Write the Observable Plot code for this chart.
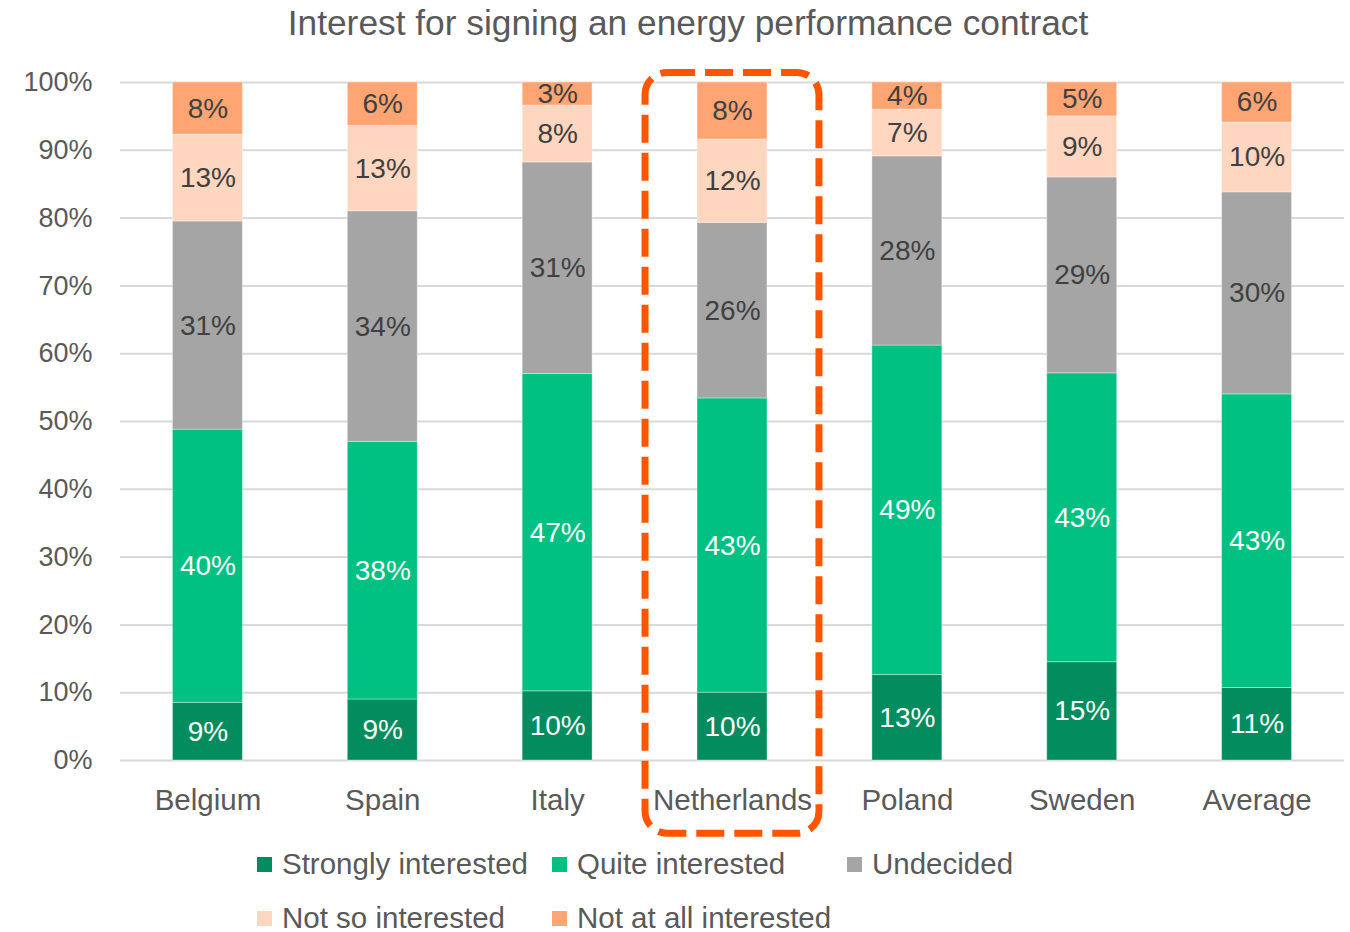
<!DOCTYPE html>
<html><head><meta charset="utf-8">
<script src="https://cdn.jsdelivr.net/npm/d3@7"></script>
<script src="https://cdn.jsdelivr.net/npm/@observablehq/plot@0.6"></script>
<style>
body{margin:0;background:#fff;font-family:"Liberation Sans",Arial,sans-serif;}
#title{height:50px;line-height:46px;font-size:35.3px;color:#595959;text-align:center;width:1350px;padding-left:26px;box-sizing:border-box;white-space:nowrap;}
#legend{position:relative;height:82px;width:1350px;}
.item{position:absolute;font-size:29.5px;color:#595959;display:flex;align-items:center;white-space:nowrap;height:32px;}
.sw{width:15px;height:15px;margin-right:10px;flex:none;}
</style></head><body>
<div id="title">Interest for signing an energy performance contract</div>
<div id="chart"></div>
<div id="legend"></div>
<script>
const countries = ["Belgium", "Spain", "Italy", "Netherlands", "Poland", "Sweden", "Average"];
const categories = ["Strongly interested", "Quite interested", "Undecided", "Not so interested", "Not at all interested"];
const strongly  = [8.5, 9.0, 10.2, 10.0, 12.6, 14.5, 10.7];
const quite     = [40.3, 38.0, 46.8, 43.4, 48.6, 42.6, 43.3];
const undecided = [30.7, 34.0, 31.2, 25.9, 27.9, 28.9, 29.8];
const notSo     = [12.8, 12.6, 8.4, 12.3, 6.9, 9.0, 10.3];
const notAtAll  = [7.7, 6.4, 3.4, 8.4, 4.0, 5.0, 5.9];
const colors = ["#038C5E", "#00C181", "#A5A5A5", "#FFD6BF", "#FFA574"];
const yTicks = [0, 10, 20, 30, 40, 50, 60, 70, 80, 90, 100];
const highlighted = ["Netherlands"];
const whiteLabelCategories = ["Strongly interested", "Quite interested"];

const series = [strongly, quite, undecided, notSo, notAtAll];
const rows = countries.flatMap((country, i) =>
  categories.map((category, j) => ({country, category, value: series[j][i]})));

const font = '"Liberation Sans", Arial, sans-serif';
const isGreen = d => whiteLabelCategories.includes(d.category);
const fmt = d => Math.round(d.value) + "%";

const chart = Plot.plot({
  width: 1350,
  height: 800,
  marginTop: 32,
  marginBottom: 90,
  marginLeft: 120,
  marginRight: 6,
  style: {fontFamily: font, fontSize: "27px", color: "#595959", background: "white", overflow: "visible"},
  x: {domain: countries, paddingInner: 0.6, paddingOuter: 0.3, round: false, label: null, tickSize: 0, tickPadding: 29},
  y: {domain: [0, 100], ticks: yTicks, tickFormat: d => d + "%", label: null, tickSize: 0, tickPadding: 28},
  color: {domain: categories, range: colors},
  marks: [
    Plot.ruleY(yTicks, {stroke: "#D9D9D9", strokeWidth: 2}),
    Plot.barY(rows, Plot.stackY({x: "country", y: "value", z: "category", fill: "category", stroke: "#ffffff", strokeOpacity: 0.35, strokeWidth: 1})),
    Plot.text(rows, Plot.stackY({x: "country", y: "value", z: "category", text: d => isGreen(d) ? fmt(d) : "", fill: "white", fontSize: 28})),
    Plot.text(rows, Plot.stackY({x: "country", y: "value", z: "category", text: d => isGreen(d) ? "" : fmt(d), fill: "#404040", fontSize: 28})),
    Plot.barY(highlighted, {x: d => d, y1: -10.8, y2: 101.4, insetLeft: -52, insetRight: -52, rx: 22, ry: 22,
      fill: "none", stroke: "#FF5500", strokeWidth: 7, strokeDasharray: "28,10"})
  ]
});
chart.querySelectorAll('[aria-label="x-axis tick label"] text, g[aria-label="x-axis tick label"]').forEach(el => el.setAttribute("font-size", "29.5"));
document.getElementById("chart").appendChild(chart);

const legend = document.getElementById("legend");
const legendCols = [257, 552, 847];
categories.forEach((c, i) => {
  const row = Math.floor(i / 3), col = i % 3;
  const el = document.createElement("div");
  el.className = "item";
  el.style.left = legendCols[col] + "px";
  el.style.top = (row === 0 ? -2 : 52) + "px";
  el.innerHTML = `<span class="sw" style="background:${colors[i]}"></span><span>${c}</span>`;
  legend.appendChild(el);
});
</script>
</body></html>
